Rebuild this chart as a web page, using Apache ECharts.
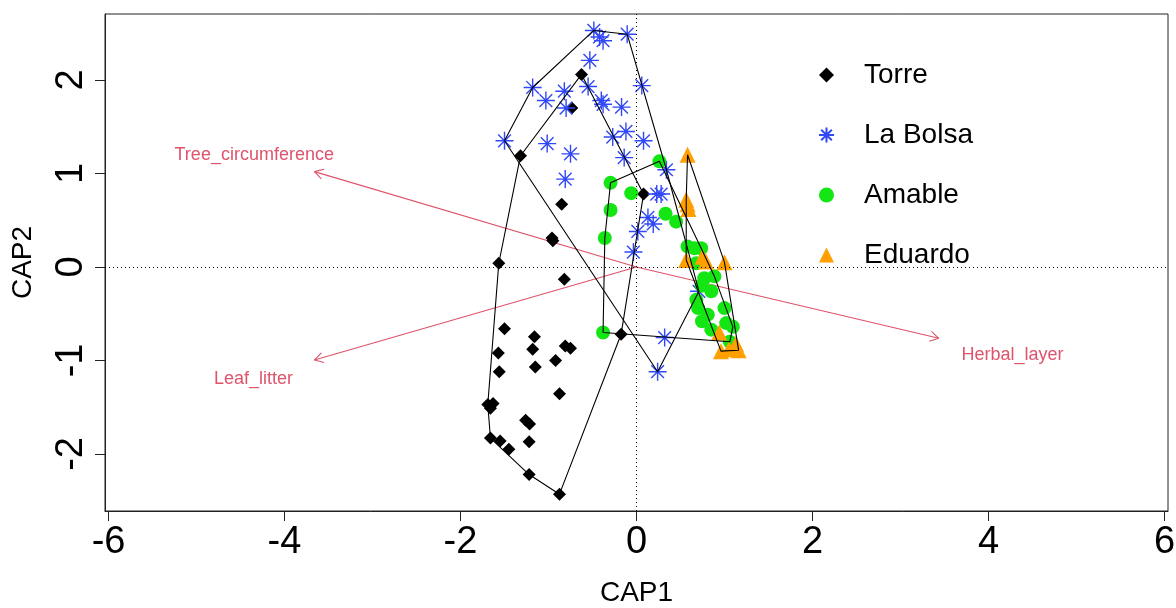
<!DOCTYPE html>
<html>
<head>
<meta charset="utf-8">
<script src="https://cdn.jsdelivr.net/npm/echarts@6/dist/echarts.min.js"></script>
<style>
  html, body { margin: 0; padding: 0; background: #fff; }
  #chart { width: 1176px; height: 608px; }
</style>
</head>
<body>
<div id="chart"></div>
<script>
  // site scores (CAP1, CAP2)
  var torre = [
    [-0.625, 2.06], [-0.735, 1.70], [-1.318, 1.19], [-0.85, 0.67], [-0.96, 0.31],
    [-0.95, 0.28], [0.08, 0.78], [-1.565, 0.04], [-0.82, -0.13], [-1.5, -0.66],
    [-1.16, -0.745], [-1.18, -0.88], [-1.57, -0.92], [-0.92, -1.0], [-0.81, -0.845],
    [-0.75, -0.87], [-1.15, -1.07], [-1.56, -1.12], [-0.875, -1.355], [-1.69, -1.47],
    [-1.63, -1.46], [-1.66, -1.51], [-1.26, -1.64], [-1.215, -1.68], [-1.66, -1.83],
    [-1.55, -1.86], [-1.22, -1.87], [-1.45, -1.95], [-1.22, -2.22], [-0.875, -2.43],
    [-0.175, -0.72]
  ];
  var laBolsa = [
    [-0.485, 2.53], [-0.42, 2.46], [-0.38, 2.42], [-0.106, 2.49], [-0.53, 2.21],
    [0.06, 1.94], [-1.18, 1.92], [-0.82, 1.88], [-1.03, 1.78], [-0.55, 1.93],
    [-0.40, 1.78], [-0.38, 1.74], [-0.17, 1.71], [-0.80, 1.70], [-1.5, 1.35],
    [-1.015, 1.32], [-0.75, 1.21], [-0.27, 1.39], [-0.12, 1.45], [0.08, 1.35],
    [-0.14, 1.17], [-0.81, 0.94], [0.34, 1.04], [0.23, 0.78], [0.28, 0.78],
    [0.13, 0.53], [0.19, 0.46], [0.015, 0.38], [-0.035, 0.16], [0.71, -0.26],
    [0.32, -0.755], [0.24, -1.12]
  ];
  var amable = [
    [0.26, 1.13], [-0.295, 0.90], [-0.06, 0.79], [-0.295, 0.61], [0.33, 0.57],
    [0.45, 0.485], [-0.36, 0.31], [0.58, 0.22], [0.66, 0.20], [0.735, 0.20],
    [0.68, 0.04], [0.77, -0.12], [0.885, -0.10], [0.74, -0.20], [0.85, -0.26],
    [0.68, -0.35], [0.70, -0.44], [0.81, -0.51], [1.0, -0.44], [0.745, -0.58],
    [0.85, -0.67], [1.02, -0.60], [1.095, -0.64], [1.06, -0.80], [-0.38, -0.70]
  ];
  var eduardo = [
    [0.58, 1.20], [0.565, 0.72], [0.58, 0.67], [0.59, 0.62], [0.565, 0.075],
    [0.75, 0.11], [0.79, 0.06], [1.0, 0.05], [0.94, -0.70], [0.96, -0.90],
    [1.13, -0.82], [1.16, -0.89], [1.05, -0.88]
  ];

  // environmental vectors: arrow tips and label positions
  var arrowNames = ['Tree_circumference', 'Leaf_litter', 'Herbal_layer'];
  var arrowTips = [[-3.66, 1.02], [-3.66, -0.995], [3.435, -0.763]];
  var arrowLabels = [[-4.344, 1.198], [-4.352, -1.198], [4.273, -0.941]];

  var xTicks = [-6, -4, -2, 0, 2, 4, 6];
  var yTicks = [-2, -1, 0, 1, 2];

  var starPath = 'path://M0,10L20,10M10,0L10,20M2.93,2.93L17.07,17.07M2.93,17.07L17.07,2.93';
  var fontFam = '"Liberation Sans", Arial, Helvetica, sans-serif';
  var red = '#DF536B';

  function hull(pts) {
    var p = pts.slice().sort(function (a, b) { return a[0] - b[0] || a[1] - b[1]; });
    var cross = function (o, a, b) {
      return (a[0] - o[0]) * (b[1] - o[1]) - (a[1] - o[1]) * (b[0] - o[0]);
    };
    var lower = [], upper = [];
    for (var i = 0; i < p.length; i++) {
      while (lower.length >= 2 && cross(lower[lower.length - 2], lower[lower.length - 1], p[i]) <= 0) lower.pop();
      lower.push(p[i]);
    }
    for (var j = p.length - 1; j >= 0; j--) {
      while (upper.length >= 2 && cross(upper[upper.length - 2], upper[upper.length - 1], p[j]) <= 0) upper.pop();
      upper.push(p[j]);
    }
    var h = lower.slice(0, -1).concat(upper.slice(0, -1));
    h.push(h[0]);
    return h;
  }

  function hullSeries(pts) {
    return {
      type: 'line',
      data: hull(pts),
      symbol: 'none',
      silent: true,
      z: 4,
      lineStyle: { color: '#000', width: 1.1 },
      animation: false
    };
  }

  var arrowData = arrowTips.map(function (t, i) {
    return [t[0], t[1], arrowLabels[i][0], arrowLabels[i][1]];
  });

  var chart = echarts.init(document.getElementById('chart'));
  chart.setOption({
    animation: false,
    backgroundColor: '#fff',
    grid: {
      left: 105, right: 8, top: 14, bottom: 97,
      show: true, borderColor: '#222', borderWidth: 1,
      outerBoundsMode: 'none'
    },
    xAxis: {
      type: 'value', min: -6.04, max: 6.04,
      name: 'CAP1', nameLocation: 'middle', nameGap: 68,
      nameTextStyle: { fontSize: 28, color: '#000', fontFamily: fontFam },
      axisLine: { show: true, onZero: false, lineStyle: { color: '#222', width: 1 } },
      axisTick: { show: true, customValues: xTicks, length: 10, lineStyle: { color: '#222' } },
      axisLabel: { customValues: xTicks, fontSize: 38, color: '#000', fontFamily: fontFam, margin: 13 },
      splitLine: { show: false }
    },
    yAxis: {
      type: 'value', min: -2.61, max: 2.706,
      name: 'CAP2', nameLocation: 'middle', nameGap: 68, nameRotate: 90,
      nameTextStyle: { fontSize: 28, color: '#000', fontFamily: fontFam },
      axisLine: { show: true, onZero: false, lineStyle: { color: '#222', width: 1 } },
      axisTick: { show: true, customValues: yTicks, length: 10, lineStyle: { color: '#222' } },
      axisLabel: { customValues: yTicks, fontSize: 38, color: '#000', fontFamily: fontFam, rotate: 90, margin: 14 },
      splitLine: { show: false }
    },
    legend: {
      orient: 'vertical', left: 813, top: 55,
      itemWidth: 15, itemHeight: 15, itemGap: 30,
      textStyle: { fontSize: 28, lineHeight: 30, color: '#000', fontFamily: fontFam, padding: [0, 0, 0, 25] },
      data: [
        { name: 'Torre', icon: 'diamond' },
        { name: 'La Bolsa', icon: starPath },
        { name: 'Amable', icon: 'circle' },
        { name: 'Eduardo', icon: 'triangle' }
      ]
    },
    series: [
      {
        type: 'custom',
        name: 'vectors',
        silent: true,
        z: 1,
        data: arrowData,
        renderItem: function (params, api) {
          var o = api.coord([0, 0]);
          var t = api.coord([api.value(0), api.value(1)]);
          var l = api.coord([api.value(2), api.value(3)]);
          var ang = Math.atan2(t[1] - o[1], t[0] - o[0]);
          var hl = 10, ha = Math.PI / 6;
          var h1 = [t[0] - hl * Math.cos(ang - ha), t[1] - hl * Math.sin(ang - ha)];
          var h2 = [t[0] - hl * Math.cos(ang + ha), t[1] - hl * Math.sin(ang + ha)];
          var st = { stroke: red, lineWidth: 1.1 };
          return {
            type: 'group',
            children: [
              { type: 'line', shape: { x1: o[0], y1: o[1], x2: t[0], y2: t[1] }, style: st },
              { type: 'line', shape: { x1: t[0], y1: t[1], x2: h1[0], y2: h1[1] }, style: st },
              { type: 'line', shape: { x1: t[0], y1: t[1], x2: h2[0], y2: h2[1] }, style: st },
              {
                type: 'text', x: l[0], y: l[1],
                style: {
                  text: arrowNames[params.dataIndex], fill: red,
                  font: '18px ' + fontFam, align: 'center', verticalAlign: 'middle'
                }
              }
            ]
          };
        }
      },
      {
        type: 'scatter', name: 'Torre', data: torre, z: 3,
        symbol: 'diamond', symbolSize: 13,
        itemStyle: { color: '#000', opacity: 1 },
        markLine: {
          silent: true, symbol: ['none', 'none'],
          label: { show: false },
          lineStyle: { color: '#000', width: 1, type: [1, 3] },
          data: [{ yAxis: 0 }, { xAxis: 0 }]
        }
      },
      {
        type: 'scatter', name: 'La Bolsa', data: laBolsa, z: 3,
        symbol: starPath, symbolSize: 18,
        itemStyle: { color: 'rgba(0,0,0,0)', borderColor: '#3048f5', borderWidth: 1.4, opacity: 1 }
      },
      {
        type: 'scatter', name: 'Amable', data: amable, z: 3,
        symbol: 'circle', symbolSize: 14,
        itemStyle: { color: '#14e614', opacity: 1 }
      },
      {
        type: 'scatter', name: 'Eduardo', data: eduardo, z: 3,
        symbol: 'triangle', symbolSize: 16,
        itemStyle: { color: '#ffa000', opacity: 1 }
      },
      hullSeries(torre),
      hullSeries(laBolsa),
      hullSeries(amable),
      hullSeries(eduardo)
    ]
  });
</script>
</body>
</html>
